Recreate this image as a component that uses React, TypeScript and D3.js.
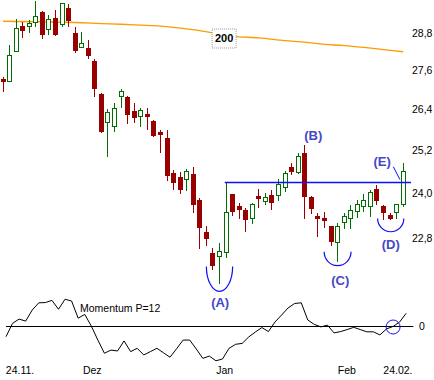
import React from 'react';
import * as d3 from 'd3';

const W = 434;
const H = 380;

// OHLC per trading day (index 0 = 24.11., last = 24.02.)
const opens = [27.33,27.24,28.18,29.03,29.00,29.13,29.50,28.90,29.30,29.06,
  29.63,28.80,28.31,28.31,27.90,26.87,25.99,25.87,26.77,26.77,
  26.35,26.17,26.26,26.05,25.73,25.55,24.55,24.44,24.36,24.52,
  23.81,22.95,22.39,22.31,22.41,23.97,23.64,23.54,23.30,23.92,
  23.75,23.94,23.92,24.13,24.72,24.55,25.12,23.89,23.38,23.32,
  23.09,22.67,23.19,23.30,23.48,23.62,23.62,24.11,23.64,23.40,
  23.46,23.67];
const highs = [27.39,28.41,29.26,29.16,29.23,29.87,29.53,29.40,29.57,29.80,
  29.77,29.00,28.83,28.57,27.96,26.90,26.41,26.59,27.02,26.80,
  26.59,26.44,26.44,26.08,25.78,25.78,24.64,24.58,24.66,24.72,
  23.86,23.11,22.54,22.67,24.27,23.97,23.73,23.59,23.73,24.11,
  24.00,24.08,24.38,24.61,24.83,25.12,25.35,23.92,23.46,23.48,
  23.11,23.19,23.46,23.67,23.81,23.97,24.08,24.22,23.67,23.46,
  23.70,24.83];
const lows = [26.93,27.24,28.18,28.64,28.80,29.00,28.60,28.73,28.70,29.00,
  29.00,28.15,28.31,27.96,26.77,25.70,25.00,25.73,26.44,25.96,
  25.99,25.87,25.78,25.58,25.12,24.33,24.08,23.97,24.05,23.46,
  22.49,22.57,21.96,21.63,22.28,23.38,23.30,22.95,23.16,23.59,
  23.67,23.54,23.78,24.03,24.50,24.52,23.30,23.43,22.82,23.06,
  22.59,22.16,23.03,23.01,23.32,23.48,23.35,23.67,23.27,23.27,
  23.30,23.62];
const closes = [27.24,28.09,28.96,28.87,29.13,29.36,28.73,29.26,28.73,29.80,
  29.20,28.22,28.47,28.05,27.02,25.73,26.32,26.44,26.96,26.23,
  26.14,26.38,26.17,25.61,25.64,24.47,24.27,24.08,24.61,23.67,
  23.06,22.77,22.06,22.46,23.48,23.48,23.54,23.27,23.70,23.83,
  23.89,23.73,24.25,24.55,24.58,25.03,23.89,23.56,23.30,23.24,
  22.69,23.09,23.38,23.54,23.70,23.81,24.03,23.78,23.46,23.30,
  23.70,24.61];

// 200-day moving average, read at selected days
const maDays = [0, 12, 15, 18, 21, 24, 27, 30, 35, 39, 43, 46, 49, 52, 55, 58, 61];
const maValues = [29.19, 29.14, 29.11, 29.09, 29.06, 29.03, 28.96, 28.88, 28.69, 28.64,
  28.55, 28.50, 28.43, 28.39, 28.33, 28.26, 28.19];

// Momentum (P=12), percent
const momentum = [-4.8,1.2,3.1,2.2,7.2,10.4,10.5,11.5,7.5,12.0,
  11.2,3.5,5.2,0,-6.3,-12.2,-10.8,-11.2,-6.7,-11.5,
  -10.0,-13.0,-11.5,-10.0,-12.0,-14.0,-10.2,-6.3,-6.3,-10.3,
  -14.5,-13.5,-15.6,-14.8,-10.0,-8.2,-7.8,-4.9,-2.7,-0.7,
  -2.5,1.8,4.9,8.1,10.1,10.4,2.7,0.7,-0.4,0.4,
  -3.1,-2.5,-1.6,-0.6,-1.6,-2.6,-2.6,-4.0,-1.3,-0.2,
  1.8,5.7];

const priceTicks = [22.8, 24.0, 25.2, 26.4, 27.6, 28.8];
const dateLabels = ['24.11.', 'Dez', 'Jan', 'Feb', '24.02.'];
const dateLabelDays = [2.6, 13.6, 33.8, 52.4, 60.2];

// Pattern annotations
const necklinePrice = 24.28;
const necklineFrom = 33.8;
const necklineTo = 62.2;
const labelTexts = ['(A)', '(B)', '(C)', '(D)', '(E)'];
const labelDays = [33.1, 47.3, 51.4, 59.1, 57.8];
const labelPrices = [21.17, 25.61, 21.71, 22.62, 24.86];
const arcDays = [33.0, 51.0, 59.1];
const arcHalfWidths = [2.0, 2.05, 2.0];
const arcTopPrices = [22.06, 22.43, 23.30];
const arcBottomPrices = [21.44, 22.08, 22.95];

const FONT = '"Liberation Sans", Arial, sans-serif';
const GREEN = '#006e00';
const RED = '#990000';
const BLUE = '#1010f0';
const LABEL_BLUE = '#4646c8';

export default function App() {
  const n = closes.length;
  const x = d3.scaleLinear().domain([0, n - 1]).range([3, 403.2]);
  const y = d3.scaleLog().domain([22.8, 28.8]).range([237.5, 33]);
  const xm = d3.scaleLinear().domain([0, n - 1]).range([6, 406.2]);
  const ym = d3.scaleLinear().domain([-20, 20]).range([370.6, 281.4]);

  const maLine = d3.line<number>()
    .x((_, i) => x(maDays[i]))
    .y((d) => y(d))
    .curve(d3.curveMonotoneX)(maValues) || '';

  const momLine = d3.line<number>()
    .x((_, i) => xm(i))
    .y((d) => ym(d))(momentum) || '';

  const fmt = (v: number) => v.toFixed(1).replace('.', ',');

  const candles = closes.map((c, i) => {
    const o = opens[i];
    const cx = Math.floor(x(i)) + 0.5;
    const up = c >= o;
    const top = Math.round(y(Math.max(o, c)));
    const bot = Math.round(y(Math.min(o, c)));
    const hi = Math.round(y(highs[i]));
    const lo = Math.round(y(lows[i]));
    if (up) {
      return (
        <g key={i}>
          <line x1={cx} x2={cx} y1={hi} y2={top} stroke={GREEN} strokeWidth={1} />
          <line x1={cx} x2={cx} y1={bot} y2={lo} stroke={GREEN} strokeWidth={1} />
          <rect x={cx - 2} y={top + 0.5} width={4} height={Math.max(bot - top - 1, 1)}
            fill="#fff" stroke={GREEN} strokeWidth={1} />
        </g>
      );
    }
    return (
      <g key={i}>
        <line x1={cx} x2={cx} y1={hi} y2={lo} stroke={RED} strokeWidth={1} />
        <rect x={cx - 2.5} y={top} width={5} height={Math.max(bot - top, 1)} fill={RED} />
      </g>
    );
  });

  const arcs = arcDays.map((d, k) => {
    const cx = x(d);
    const rx = x(d + arcHalfWidths[k]) - x(d);
    const ty = y(arcTopPrices[k]);
    const ry = y(arcBottomPrices[k]) - ty;
    const path = `M${cx - rx},${ty} A${rx},${ry} 0 0 0 ${cx + rx},${ty}`;
    return <path key={k} d={path} fill="none" stroke={BLUE} strokeWidth={1.2} />;
  });

  const maBoxDay = 33.7;
  const maBoxPrice = 28.62;
  const bx = x(maBoxDay);
  const by = y(maBoxPrice);

  return (
    <svg width={W} height={H} style={{ position: 'fixed', left: 0, top: 0, background: '#fff' }}
      fontFamily={FONT}>
      <rect x={0} y={0} width={W} height={H} fill="#fff" />
      {/* 200-day MA */}
      <path d={maLine} fill="none" stroke="#ff9a00" strokeWidth={1.3} />
      <rect x={bx - 12} y={by - 9.5} width={24} height={19} fill="#fff" stroke="#999"
        strokeWidth={1} strokeDasharray="1,1" />
      <text x={bx} y={by} textAnchor="middle" dominantBaseline="central" fontSize={11}
        fontWeight="bold" fill="#000">200</text>

      {/* candles */}
      {candles}

      {/* neckline */}
      <line x1={x(necklineFrom)} x2={x(necklineTo)} y1={y(necklinePrice)} y2={y(necklinePrice)}
        stroke={BLUE} strokeWidth={1.6} />

      {/* arcs and labels */}
      {arcs}
      <line x1={x(59.5)} y1={y(24.72)} x2={x(60.5)} y2={y(24.36)} stroke={BLUE} strokeWidth={1} />
      {labelTexts.map((t, k) => (
        <text key={t} x={x(labelDays[k])} y={y(labelPrices[k])} textAnchor="middle"
          dominantBaseline="central" fontSize={13} fontWeight="bold" fill={LABEL_BLUE}>{t}</text>
      ))}

      {/* price axis */}
      {priceTicks.map((v) => (
        <text key={v} x={412} y={y(v)} dominantBaseline="central" fontSize={10.5} fill="#000">
          {fmt(v)}
        </text>
      ))}

      {/* momentum panel */}
      <line x1={xm(0)} x2={xm(62.1)} y1={Math.round(ym(0)) + 0.5} y2={Math.round(ym(0)) + 0.5}
        stroke="#000" strokeWidth={1} />
      <path d={momLine} fill="none" stroke="#000" strokeWidth={1} />
      <text x={80} y={308} dominantBaseline="central" fontSize={10.5} fill="#000">Momentum P=12</text>
      <text x={419} y={ym(0)} dominantBaseline="central" fontSize={10.5} fill="#000">0</text>
      <ellipse cx={xm(59.0)} cy={ym(-0.45)} rx={7} ry={7} fill="none" stroke={BLUE} strokeWidth={1} />

      {/* date axis */}
      {dateLabels.map((t, k) => (
        <text key={t} x={x(dateLabelDays[k])} y={370} textAnchor="middle" dominantBaseline="central"
          fontSize={10.5} fill="#000">{t}</text>
      ))}
    </svg>
  );
}
